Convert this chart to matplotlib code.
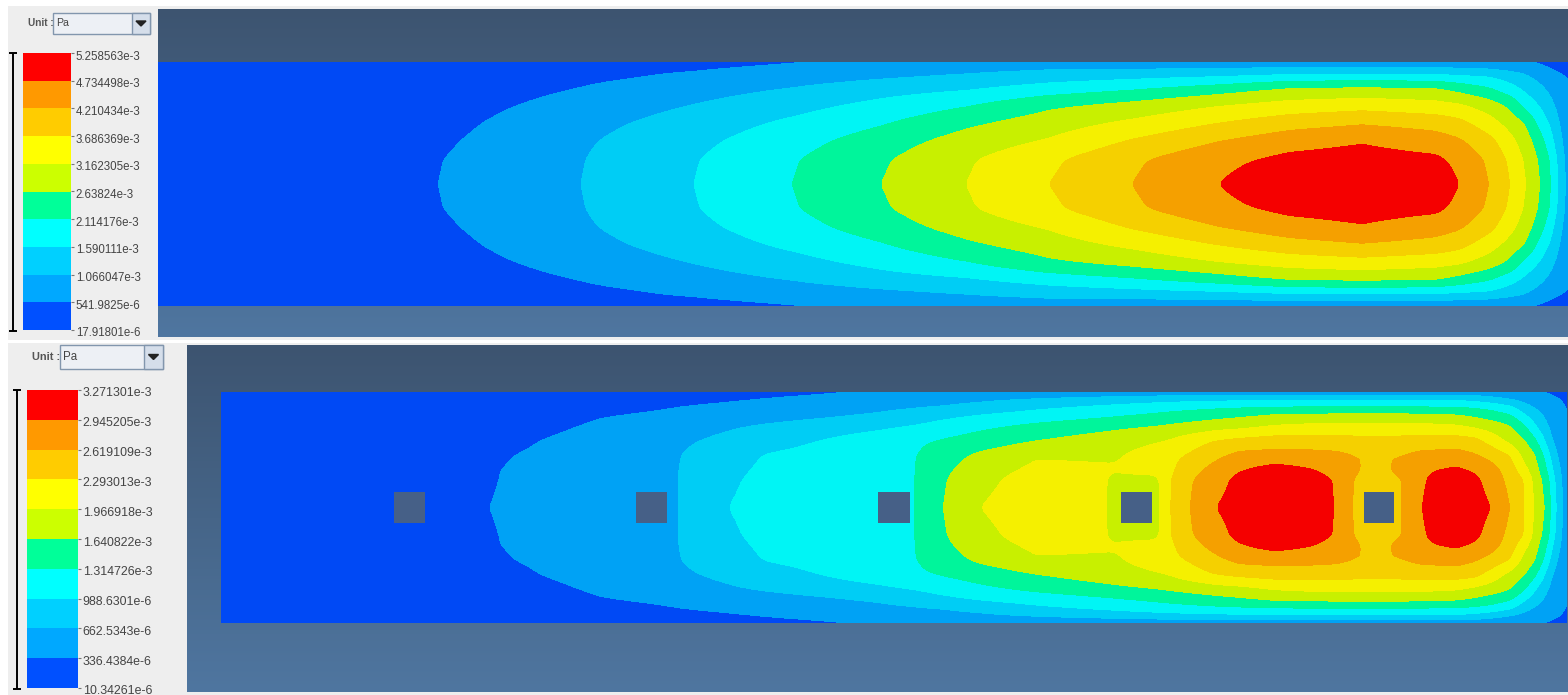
import numpy as np
import matplotlib
matplotlib.use("Agg")
import matplotlib.pyplot as plt
from matplotlib.colors import ListedColormap, LinearSegmentedColormap
from matplotlib.patches import Rectangle, Polygon
from matplotlib.transforms import ScaledTranslation

plt.rcParams['font.family'] = ['Liberation Sans', 'DejaVu Sans']

W, H = 1568, 695

# ---------- legend data ----------
TOP_TICKS = ["17.91801e-6", "541.9825e-6", "1.066047e-3", "1.590111e-3", "2.114176e-3", "2.63824e-3",
             "3.162305e-3", "3.686369e-3", "4.210434e-3", "4.734498e-3", "5.258563e-3"]
BOT_TICKS = ["10.34261e-6", "336.4384e-6", "662.5343e-6", "988.6301e-6", "1.314726e-3", "1.640822e-3",
             "1.966918e-3", "2.293013e-3", "2.619109e-3", "2.945205e-3", "3.271301e-3"]
UNIT = "Pa"
LEGEND_COLORS = ["#0050ff", "#00a8ff", "#00d0ff", "#00ffff", "#00ff99",
                 "#ccff00", "#ffff00", "#ffcc00", "#ff9900", "#ff0000"]
FIELD_COLORS = ["#0049f5", "#00a2f5", "#00cdf5", "#00f5f5", "#00f59b",
                "#c8f000", "#f5f000", "#f5d000", "#f5a000", "#f50000"]

# ---------- field data, in legend steps (0 = lowest tick, 10 = highest tick) ----------
# half-channel offsets from the centre line (0) to the wall (1); the field is mirror-symmetric
TOP_S = [0, .2, .35, .5, .65, .78, .88, .94, 1]
TOP_X = [158, 439, 510, 581, 640, 694, 792, 881, 966, 1049, 1132, 1219, 1290, 1362, 1435,
         1459, 1489, 1510, 1526, 1540, 1551, 1558, 1568]
TOP_COLS = [
    [.3, .3, .3, .28, .25, .2, .15, .1, .05],
    [1.0, .97, .85, .69, .5, .35, .25, .18, .1],
    [1.5, 1.45, 1.36, 1.2, .95, .72, .58, .48, .35],
    [2, 1.96, 1.87, 1.67, 1.34, 1.03, .8, .65, .5],
    [2.52, 2.46, 2.32, 2.07, 1.69, 1.33, .97, .85, .6],
    [3, 2.94, 2.75, 2.46, 2.01, 1.58, 1.18, .93, .72],
    [4, 3.91, 3.61, 3.18, 2.63, 2.05, 1.52, 1.24, .92],
    [5, 4.87, 4.5, 3.9, 3.25, 2.59, 1.84, 1.57, 1.1],
    [6, 5.87, 5.42, 4.79, 3.89, 2.9, 2.15, 1.75, 1.15],
    [7, 6.8, 6.1, 5.51, 4.77, 3.45, 2.52, 1.98, 1.3],
    [8, 7.83, 7.1, 6.2, 5.25, 3.89, 2.75, 2, 1.3],
    [9, 8.73, 8, 7, 5.91, 4.5, 3, 2.08, 1.3],
    [9.8, 9.25, 8.62, 7.58, 6.33, 5.1, 3.33, 2.2, 1.3],
    [10, 9.41, 8.93, 7.91, 6.55, 5.2, 3.4, 2.2, 1.3],
    [9.6, 9.2, 8.5, 7.6, 6.3, 5.1, 3.35, 2.2, 1.3],
    [9, 8.75, 8.15, 7.3, 6.1, 4.65, 3.2, 2.1, 1.3],
    [8, 7.82, 7.32, 6.44, 5.43, 4.1, 3, 2, 1.25],
    [7, 6.81, 6.33, 5.6, 4.73, 3.4, 2.5, 1.8, 1.15],
    [6, 5.8, 5.41, 4.9, 3.6, 2.75, 2.1, 1.7, 1],
    [5, 4.83, 4.42, 3.64, 2.88, 2.2, 1.7, 1.4, .8],
    [4, 3.86, 3.33, 2.8, 2.2, 1.75, 1.4, 1.05, .6],
    [3, 2.8, 2.43, 2.1, 1.75, 1.45, 1.2, .85, .5],
    [1.6, 1.55, 1.45, 1.3, 1.15, 1.05, .95, .75, .35],
]

BOT_X = [221, 490, 540, 600, 680, 728, 767, 821, 878, 917, 943, 980, 1036, 1105, 1115, 1155, 1162, 1170,
         1190, 1216, 1240, 1275, 1310, 1335, 1347, 1354, 1377, 1400, 1406, 1422, 1438, 1457, 1475, 1491,
         1510, 1524, 1534, 1545, 1551, 1556, 1562, 1567]
BOT_S = [0, .24, .32, .45, .58, .7, .8, .88, .94, 1]
BOT_ROWS = [
    [.3, 1, 1.26, 1.58, 2, 3, 3.2, 3.5, 3.8, 4, 5, 6, 6.5, 6.1, 5.6, 5.6, 6.2, 7,
     8, 9, 9.45, 9.9, 9.45, 9, 8.3, 7.9, 7.4, 7.9, 8.2, 9, 9.6, 10, 9.55, 9, 8, 7, 6, 5, 4, 3, 2, 1.5],
    [.3, .95, 1.23, 1.56, 2, 2.9, 3.18, 3.48, 3.8, 4, 4.9, 5.75, 6.4, 6.1, 5.7, 5.7, 6.2, 6.95,
     7.9, 8.6, 9.3, 9.8, 9.4, 8.95, 8.3, 7.95, 7.5, 7.9, 8.2, 8.85, 9.35, 9.7, 9.25, 8.5, 7.74, 7, 5.75, 4.67, 3.67, 2.8, 1.9, 1.45],
    [.28, .94, 1.22, 1.55, 2, 2.8, 3.16, 3.46, 3.78, 4, 4.77, 5.62, 6.2, 6.1, 6.1, 6.3, 6.45, 6.8,
     7.65, 8.4, 8.95, 9.45, 9.1, 8.7, 8.4, 8.15, 7.6, 8.25, 8.4, 8.8, 9.02, 9.2, 8.85, 8.45, 7.55, 6.35, 5.5, 4.33, 3.33, 2.5, 1.8, 1.4],
    [.27, .85, 1.17, 1.52, 1.98, 2.6, 3.07, 3.36, 3.7, 3.99, 4.53, 5.2, 5.92, 5.9, 5.9, 6.4, 6.55, 6.7,
     7.12, 7.78, 8.3, 8.4, 8.35, 8.25, 8.1, 8, 7.97, 7.98, 8.05, 8.3, 8.35, 8.4, 8.1, 7.68, 7, 5.68, 5.16, 3.83, 2.83, 2, 1.7, 1.3],
    [.22, .55, 1, 1.37, 1.85, 2.2, 2.55, 3.02, 3.5, 3.84, 4.07, 4.42, 4.97, 5.5, 5.6, 5.9, 5.96, 6.07,
     6.5, 7.02, 7.25, 7.45, 7.42, 7.4, 7.35, 7.3, 7.3, 7.3, 7.35, 7.4, 7.42, 7.45, 7.3, 6.57, 5.7, 5.09, 4.27, 3, 2, 1.8, 1.55, 1.25],
    [.18, .4, .75, 1.16, 1.63, 1.9, 2.14, 2.46, 2.8, 3.1, 3.4, 3.8, 4.26, 4.7, 4.78, 5.04, 5.1, 5.18,
     5.36, 5.6, 5.75, 6.12, 6.28, 6.35, 6.35, 6.35, 6.35, 6.35, 6.35, 6.3, 6.25, 6.15, 5.85, 5.55, 5.1, 4.2, 3.2, 2.25, 1.8, 1.6, 1.4, 1.15],
    [.15, .3, .5, .93, 1.22, 1.43, 1.59, 1.81, 2.1, 2.44, 2.7, 3.03, 3.38, 3.8, 3.86, 4.14, 4.2, 4.26,
     4.41, 4.62, 4.8, 5.1, 5.17, 5.2, 5.2, 5.2, 5.2, 5.2, 5.2, 5.15, 5.12, 5.05, 4.8, 4.5, 4.08, 3.1, 2.5, 1.85, 1.6, 1.45, 1.25, 1.05],
    [.12, .2, .3, .55, .98, 1.15, 1.3, 1.5, 1.72, 1.86, 1.96, 2.21, 2.7, 3.1, 3.15, 3.4, 3.45, 3.5,
     3.6, 3.7, 3.77, 3.85, 3.85, 3.85, 3.85, 3.85, 3.85, 3.85, 3.85, 3.85, 3.85, 3.85, 3.7, 3.5, 3.05, 2.3, 1.85, 1.55, 1.35, 1.25, 1.1, .9],
    [.08, .12, .2, .35, .7, .87, 1.03, 1.22, 1.43, 1.58, 1.68, 1.82, 2.02, 2.3, 2.34, 2.5, 2.52, 2.55,
     2.62, 2.7, 2.75, 2.8, 2.8, 2.8, 2.8, 2.8, 2.8, 2.8, 2.8, 2.8, 2.8, 2.8, 2.6, 2.3, 1.9, 1.6, 1.45, 1.3, 1.2, 1.1, 1, .75],
    [.05, .1, .15, .25, .45, .6, .72, .87, 1.02, 1.1, 1.14, 1.2, 1.3, 1.3, 1.3, 1.3, 1.3, 1.3,
     1.3, 1.3, 1.3, 1.3, 1.3, 1.3, 1.3, 1.3, 1.3, 1.3, 1.3, 1.3, 1.3, 1.3, 1.3, 1.3, 1.2, 1.1, 1.04, .95, .85, .75, .6, .35],
]
# square obstacles in the lower channel: left and right edges
SQUARE_LEFT = [394, 636, 878, 1121, 1364]
SQUARE_RIGHT = [425, 667, 910, 1152, 1394]
SQUARE_HALF = 0.13

# ---------- helpers ----------
fig = plt.figure(figsize=(W / 100, H / 100), dpi=100, facecolor="white")


def px_axes(x0, y0, x1, y1, **kw):
    ax = fig.add_axes([x0 / W, 1 - y1 / H, (x1 - x0) / W, (y1 - y0) / H], **kw)
    return ax


back = px_axes(0, 0, W, H)
back.set_xlim(0, W)
back.set_ylim(H, 0)
back.axis("off")
back.add_patch(Rectangle((8, 6), W - 8, 334, color="#eeeeee", lw=0))
back.add_patch(Rectangle((8, 343), W - 8, 352, color="#eeeeee", lw=0))
grad = LinearSegmentedColormap.from_list("g", ["#3d5470", "#4f76a0"])
vals = np.linspace(0, 1, 256)[:, None]
back.imshow(vals, extent=(158, W, 337, 9), cmap=grad, aspect="auto", zorder=1)
back.imshow(vals, extent=(187, W, 692, 345), cmap=grad, aspect="auto", zorder=1)
back.set_xlim(0, W)
back.set_ylim(H, 0)


def widget(x_label, x_box, x_btn, x_end, y0, y1, size):
    back.add_patch(Rectangle((x_box, y0), x_end - x_box, y1 - y0, fc="#edf0f5", ec="#8296ad", lw=1, zorder=2))
    back.add_patch(Rectangle((x_btn, y0), x_end - x_btn, y1 - y0, fc="#d5deea", ec="#8296ad", lw=1, zorder=2))
    back.text(x_label, (y0 + y1) / 2, "Unit :", fontsize=size, fontweight="bold", color="#555555",
              ha="left", va="center", zorder=3)
    back.text(x_box + 3, (y0 + y1) / 2, UNIT, fontsize=size + .4, color="#444444", ha="left", va="center", zorder=3)
    cx, cy = (x_btn + x_end) / 2, (y0 + y1) / 2
    back.add_patch(Polygon([[cx - 5, cy - 2.5], [cx + 5, cy - 2.5], [cx, cy + 2.5]], color="#222222", zorder=3))


widget(28, 53, 132, 150, 13, 34, 7.2)
widget(32, 60, 144, 163, 345, 369, 7.9)


def legend(x0, y0, x1, y1, labels, size, xb):
    ax = px_axes(x0, y0, x1, y1)
    steps = np.arange(len(LEGEND_COLORS))
    ax.bar(steps * 0 + .5, np.ones_like(steps), bottom=steps, width=1, color=LEGEND_COLORS, lw=0)
    ax.set_xlim(0, 1)
    ax.set_ylim(0, 10)
    ax.set_xticks([])
    ax.yaxis.tick_right()
    ax.set_yticks(np.arange(11))
    ax.set_yticklabels(labels, fontsize=size, color="#444444")
    ax.tick_params(axis="y", length=2, width=.8, pad=1.5, color="#777777")
    shift = ScaledTranslation(0, -2 / 100, fig.dpi_scale_trans)
    for lab in ax.get_yticklabels():
        lab.set_transform(lab.get_transform() + shift)
    for s in ax.spines.values():
        s.set_visible(False)
    back.plot([xb, xb], [y0, y1 + 1], color="black", lw=1.4, zorder=3, solid_capstyle="butt")
    for y in (y0, y1 + 1):
        back.plot([xb - 4, xb + 4], [y, y], color="black", lw=1.4, zorder=3, solid_capstyle="butt")


legend(23, 53, 71, 330, TOP_TICKS, 8.3, 13)
legend(27, 390, 78, 688, BOT_TICKS, 8.9, 17)

cmap = ListedColormap(FIELD_COLORS)
levels = np.arange(11)


def blur(a, r):
    kernel = np.ones(2 * r + 1) / (2 * r + 1)
    for _ in range(2):
        pad = np.pad(a, r, mode="edge")
        a = np.convolve(pad, kernel, mode="valid")
    return a


def field(x0, y0, x1, y1, xs, s_half, half):
    ax = px_axes(x0, y0, x1, y1)
    half = np.asarray(half, float)
    s_half = np.asarray(s_half, float)
    s_full = np.concatenate([-s_half[:0:-1], s_half])
    z_full = np.vstack([half[:0:-1], half])
    # draw on a pixel-fine sampling of the read grid, lightly rounded so facets do not show
    fx = np.arange(x0, x1 + 1, 1.0)
    fs = np.linspace(-1, 1, int(y1 - y0) + 1)
    zx = np.array([np.interp(fx, xs, row) for row in z_full])
    zz = np.array([np.interp(fs, s_full, col) for col in zx.T]).T
    pad = np.pad(zz, 12, mode="edge")
    pad = np.apply_along_axis(blur, 1, pad, 3)
    pad = np.apply_along_axis(blur, 0, pad, 3)
    # blur of doubled-edge padding keeps shape; strip the padding again
    zz = pad[12:-12, 12:-12]
    ax.contourf(fx, fs, np.clip(zz, 0, 10), levels=levels, cmap=cmap, vmin=0, vmax=10)
    ax.set_xlim(x0, x1)
    ax.set_ylim(-1, 1)
    ax.axis("off")
    return ax


ax_top = field(158, 62, 1568, 306, TOP_X, TOP_S, np.array(TOP_COLS).T)
ax_bot = field(221, 392, 1567, 623, BOT_X, BOT_S, BOT_ROWS)
for a, b in zip(SQUARE_LEFT, SQUARE_RIGHT):
    ax_bot.add_patch(Rectangle((a, -SQUARE_HALF), b - a, 2 * SQUARE_HALF, color="#466087", lw=0, zorder=5))

fig.savefig("out.png", dpi=100)
